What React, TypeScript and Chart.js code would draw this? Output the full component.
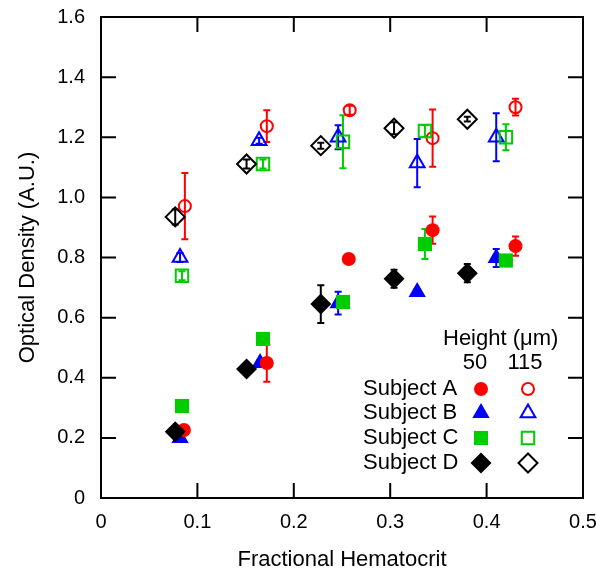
import React, { useEffect, useRef } from 'react';
import { Chart, registerables } from 'chart.js';
import { drawPoint } from 'chart.js/helpers';

Chart.register(...registerables);

// ---- data ----
const xA50 = [0.086, 0.172, 0.257, 0.344, 0.430];
const yA50 = [0.226, 0.449, 0.795, 0.891, 0.838];
const eA50 = [0.01, 0.062, 0.015, 0.045, 0.032];
const xA115 = [0.087, 0.172, 0.258, 0.344, 0.430];
const yA115 = [0.971, 1.237, 1.29, 1.197, 1.30];
const eA115 = [0.11, 0.053, 0.015, 0.095, 0.028];

const xB50 = [0.082, 0.165, 0.246, 0.328, 0.41];
const yB50 = [0.20, 0.449, 0.648, 0.685, 0.798];
const eB50 = [0.01, 0.01, 0.038, 0.01, 0.03];
const xB115 = [0.082, 0.164, 0.246, 0.328, 0.41];
const yB115 = [0.80, 1.188, 1.20, 1.114, 1.20];
const eB115 = [0.015, 0.01, 0.04, 0.08, 0.08];

const xC50 = [0.084, 0.168, 0.251, 0.336, 0.42];
const yC50 = [0.306, 0.529, 0.652, 0.845, 0.79];
const eC50 = [0.01, 0.02, 0.01, 0.05, 0.01];
const xC115 = [0.084, 0.168, 0.251, 0.336, 0.42];
const yC115 = [0.739, 1.111, 1.185, 1.221, 1.20];
const eC115 = [0.015, 0.015, 0.088, 0.02, 0.043];

const xD50 = [0.077, 0.151, 0.228, 0.304, 0.38];
const yD50 = [0.22, 0.429, 0.645, 0.729, 0.748];
const eD50 = [0.01, 0.01, 0.063, 0.03, 0.03];
const xD115 = [0.077, 0.151, 0.228, 0.304, 0.38];
const yD115 = [0.935, 1.111, 1.172, 1.23, 1.26];
const eD115 = [0.025, 0.015, 0.01, 0.02, 0.008];

const subjects = ['Subject A', 'Subject B', 'Subject C', 'Subject D'];
const heights = ['50', '115'];
const legendTitle = 'Height (\u03BCm)';
const xTitle = 'Fractional Hematocrit';
const yTitle = 'Optical Density (A.U.)';

const colors = ['#ff0000', '#0000ff', '#00cc00', '#000000'];
const styles = ['circle', 'triangle', 'rect', 'rectRot'];
const filledRadius = [7, 10, 10, 10.5];
const openRadius = [6, 8.5, 8.8, 9.5];
const drawOrder = [3, 4, 2, 1]; // B bottom, D top

const FONT = "'Liberation Sans', Arial, Helvetica, sans-serif";

const series = [
  { s: 0, open: false, x: xA50, y: yA50, e: eA50 },
  { s: 0, open: true, x: xA115, y: yA115, e: eA115 },
  { s: 1, open: false, x: xB50, y: yB50, e: eB50 },
  { s: 1, open: true, x: xB115, y: yB115, e: eB115 },
  { s: 2, open: false, x: xC50, y: yC50, e: eC50 },
  { s: 2, open: true, x: xC115, y: yC115, e: eC115 },
  { s: 3, open: false, x: xD50, y: yD50, e: eD50 },
  { s: 3, open: true, x: xD115, y: yD115, e: eD115 },
];

const errorBarPlugin = {
  id: 'errorBars',
  beforeDatasetsDraw(chart: any) {
    const ctx = chart.ctx;
    const xs = chart.scales.x;
    const ys = chart.scales.y;
    ctx.save();
    chart.data.datasets.forEach((ds: any) => {
      ctx.strokeStyle = ds.borderColor;
      ctx.lineWidth = 2;
      ds.data.forEach((p: any, i: number) => {
        const err = ds.errors[i];
        const px = xs.getPixelForValue(p.x);
        const y1 = ys.getPixelForValue(p.y - err);
        const y2 = ys.getPixelForValue(p.y + err);
        ctx.beginPath();
        ctx.moveTo(px, y1);
        ctx.lineTo(px, y2);
        ctx.moveTo(px - 3.5, y1);
        ctx.lineTo(px + 3.5, y1);
        ctx.moveTo(px - 3.5, y2);
        ctx.lineTo(px + 3.5, y2);
        ctx.stroke();
      });
    });
    ctx.restore();
  },
};

const framePlugin = {
  id: 'frame',
  afterDatasetsDraw(chart: any) {
    const ctx = chart.ctx;
    const { left, right, top, bottom } = chart.chartArea;
    const xs = chart.scales.x;
    const ys = chart.scales.y;
    const L = 15;
    ctx.save();
    ctx.strokeStyle = '#000';
    ctx.lineWidth = 2;
    ctx.beginPath();
    ctx.rect(left, top, right - left, bottom - top);
    ctx.stroke();
    ctx.beginPath();
    xs.ticks.forEach((t: any) => {
      if (t.value <= xs.min || t.value >= xs.max) return;
      const px = xs.getPixelForValue(t.value);
      ctx.moveTo(px, bottom);
      ctx.lineTo(px, bottom - L);
      ctx.moveTo(px, top);
      ctx.lineTo(px, top + L);
    });
    ys.ticks.forEach((t: any) => {
      if (t.value <= ys.min || t.value >= ys.max) return;
      const py = ys.getPixelForValue(t.value);
      ctx.moveTo(left, py);
      ctx.lineTo(left + L, py);
      ctx.moveTo(right, py);
      ctx.lineTo(right - L, py);
    });
    ctx.stroke();
    ctx.restore();
  },
};

const legendPlugin = {
  id: 'customLegend',
  afterDraw(chart: any) {
    const ctx = chart.ctx;
    ctx.save();
    ctx.fillStyle = '#000';
    ctx.font = `22px ${FONT}`;
    ctx.textBaseline = 'middle';
    ctx.textAlign = 'left';
    ctx.fillText(legendTitle, 443, 339);
    ctx.textAlign = 'center';
    ctx.fillText(heights[0], 475, 363);
    ctx.fillText(heights[1], 525, 363);
    const rows = [389, 413, 438, 463];
    subjects.forEach((name, i) => {
      ctx.textAlign = 'left';
      ctx.fillStyle = '#000';
      ctx.fillText(name, 363, rows[i]);
      ctx.fillStyle = colors[i];
      ctx.strokeStyle = colors[i];
      ctx.lineWidth = 0;
      drawPoint(ctx, { pointStyle: styles[i], radius: filledRadius[i], rotation: 0, borderWidth: 0 } as any, 481, rows[i]);
      ctx.fillStyle = 'rgba(0,0,0,0)';
      ctx.strokeStyle = colors[i];
      ctx.lineWidth = 2;
      drawPoint(ctx, { pointStyle: styles[i], radius: openRadius[i], rotation: 0, borderWidth: 2 } as any, 528, rows[i]);
    });
    ctx.restore();
  },
};

export default function App() {
  const ref = useRef<HTMLCanvasElement | null>(null);

  useEffect(() => {
    if (!ref.current) return;
    Chart.defaults.font.family = FONT;
    const datasets = series.map((sr) => ({
      label: subjects[sr.s] + ' ' + (sr.open ? heights[1] : heights[0]),
      data: sr.x.map((x, i) => ({ x, y: sr.y[i] })),
      errors: sr.e,
      pointStyle: styles[sr.s],
      pointRadius: sr.open ? openRadius[sr.s] : filledRadius[sr.s],
      pointHoverRadius: sr.open ? openRadius[sr.s] : filledRadius[sr.s],
      pointBorderWidth: sr.open ? 2 : 0,
      borderColor: colors[sr.s],
      backgroundColor: sr.open ? 'rgba(0,0,0,0)' : colors[sr.s],
      pointBackgroundColor: sr.open ? 'rgba(0,0,0,0)' : colors[sr.s],
      pointBorderColor: colors[sr.s],
      showLine: false,
      order: drawOrder[sr.s],
      clip: false as any,
    }));

    const chart = new Chart(ref.current, {
      type: 'scatter',
      data: { datasets: datasets as any },
      options: {
        animation: false,
        responsive: false,
        devicePixelRatio: 1,
        layout: { padding: { top: 17, right: 13, left: 0, bottom: 0 } },
        plugins: { legend: { display: false }, tooltip: { enabled: false } },
        scales: {
          x: {
            type: 'linear',
            min: 0,
            max: 0.5,
            grid: { display: false },
            border: { display: false },
            ticks: {
              stepSize: 0.1,
              padding: 4,
              color: '#000',
              font: { size: 20, family: FONT },
              callback: (v: any) => (Number(v) === 0 ? '0' : Number(v).toFixed(1)),
            },
            title: {
              display: true,
              text: xTitle,
              color: '#000',
              font: { size: 22, family: FONT },
              padding: { top: 0, bottom: 0 },
            },
            afterFit: (s: any) => {
              s.height = 75;
              s.paddingLeft = 0;
              s.paddingRight = 0;
            },
          },
          y: {
            type: 'linear',
            min: 0,
            max: 1.6,
            grid: { display: false },
            border: { display: false },
            ticks: {
              stepSize: 0.2,
              padding: 8,
              color: '#000',
              font: { size: 20, family: FONT },
              callback: (v: any) => (Number(v) === 0 ? '0' : Number(v).toFixed(1)),
            },
            title: {
              display: true,
              text: yTitle,
              color: '#000',
              font: { size: 22, family: FONT },
              padding: { top: 15, bottom: 0 },
            },
            afterFit: (s: any) => {
              s.width = 101;
              s.paddingTop = 0;
              s.paddingBottom = 0;
            },
          },
        },
      },
      plugins: [errorBarPlugin, framePlugin, legendPlugin],
    });
    return () => chart.destroy();
  }, []);

  return (
    <div style={{ position: 'absolute', left: 0, top: 0, width: 596, height: 573, background: '#fff' }}>
      <canvas ref={ref} width={596} height={573} />
    </div>
  );
}
